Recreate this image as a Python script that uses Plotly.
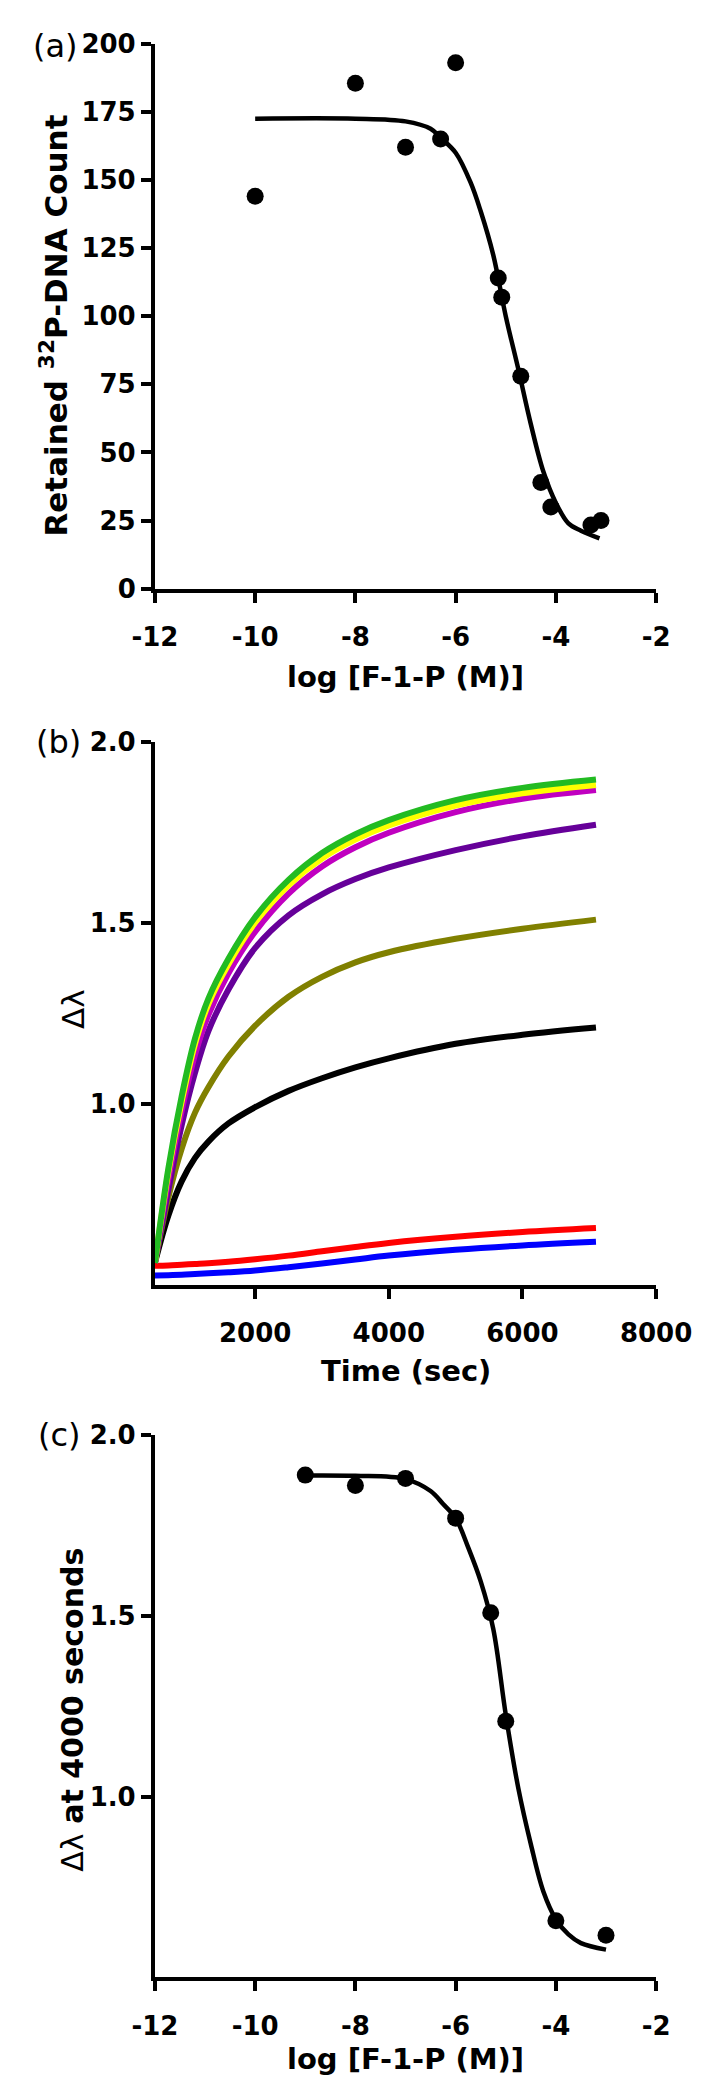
import plotly.graph_objects as go

# ---------------- Panel (a) data ----------------
a_logx = [-10, -8, -7, -6.3, -6, -5.15, -5.08, -4.7, -4.3, -4.1, -3.3, -3.1]
a_count = [144, 185.5, 162, 165, 193, 114, 107, 78, 39, 30, 23.4, 25]
a_fit_x = [-10, -8, -7, -6.5, -6.3, -6, -5.7, -5.5, -5.25, -5.0, -4.75, -4.5, -4.25, -4.0, -3.75, -3.5, -3.13]
a_fit_y = [172.5, 172.5, 171.5, 168.8, 165.5, 160, 149, 138.5, 122.5, 100, 80.6, 60.4, 43, 31.5, 24, 21.3, 18.5]

# ---------------- Panel (b) data ----------------
b_time = [500, 700, 900, 1100, 1300, 1600, 2000, 2500, 3000, 3500, 4000, 5000, 6000, 7100]
b_green = [0.56, 0.82, 1.02, 1.18, 1.29, 1.40, 1.515, 1.618, 1.692, 1.744, 1.783, 1.838, 1.872, 1.895]
b_yellow = [0.56, 0.81, 1.005, 1.165, 1.275, 1.385, 1.50, 1.603, 1.677, 1.729, 1.768, 1.823, 1.857, 1.88]
b_magenta = [0.56, 0.79, 0.98, 1.135, 1.245, 1.36, 1.475, 1.58, 1.655, 1.708, 1.748, 1.805, 1.842, 1.866]
b_purple = [0.56, 0.76, 0.94, 1.085, 1.20, 1.315, 1.43, 1.52, 1.578, 1.62, 1.652, 1.70, 1.738, 1.77]
b_olive = [0.56, 0.74, 0.875, 0.975, 1.045, 1.13, 1.215, 1.295, 1.35, 1.39, 1.418, 1.455, 1.483, 1.508]
b_black = [0.56, 0.69, 0.785, 0.85, 0.895, 0.945, 0.99, 1.035, 1.07, 1.10, 1.125, 1.165, 1.19, 1.21]
b_red = [0.552, 0.553, 0.555, 0.557, 0.559, 0.563, 0.57, 0.58, 0.592, 0.604, 0.615, 0.632, 0.645, 0.656]
b_blue = [0.525, 0.526, 0.527, 0.529, 0.531, 0.534, 0.539, 0.548, 0.558, 0.569, 0.58, 0.596, 0.608, 0.618]

# ---------------- Panel (c) data ----------------
c_logx = [-9, -8, -7, -6, -5.3, -5.0, -4, -3]
c_dl = [1.89, 1.861, 1.881, 1.771, 1.509, 1.209, 0.657, 0.617]
c_fit_x = [-9, -8, -7, -6.5, -6.25, -6, -5.75, -5.5, -5.25, -5.0, -4.75, -4.5, -4.25, -4.0, -3.75, -3.5, -3.0]
c_fit_y = [1.889, 1.888, 1.879, 1.846, 1.81, 1.771, 1.69, 1.596, 1.465, 1.227, 1.024, 0.869, 0.738, 0.661, 0.619, 0.595, 0.577]

# tick values / labels
log_ticks = [-12, -10, -8, -6, -4, -2]
log_labels = ["-12", "-10", "-8", "-6", "-4", "-2"]
a_yticks = [0, 25, 50, 75, 100, 125, 150, 175, 200]
a_ylabels = ["0", "25", "50", "75", "100", "125", "150", "175", "200"]
time_ticks = [2000, 4000, 6000, 8000]
time_labels = ["2000", "4000", "6000", "8000"]
dl_ticks = [1.0, 1.5, 2.0]
dl_labels = ["1.0", "1.5", "2.0"]

W, H = 719, 2084
FONT = "DejaVu Sans"

def py(px):
    return 1 - px / H

def bold(labels):
    return ["<b>%s</b>" % s for s in labels]

xdom = [135 / W, 681 / W]

fig = go.Figure()

# Panel (a)
fig.add_trace(go.Scatter(x=a_fit_x, y=a_fit_y, mode="lines", line=dict(color="black", width=4.5, shape="spline"),
                         xaxis="x", yaxis="y"))
fig.add_trace(go.Scatter(x=a_logx, y=a_count, mode="markers", marker=dict(color="black", size=17),
                         xaxis="x", yaxis="y", cliponaxis=False))

# Panel (b)
b_series = [
    (b_blue, "#0000FF"),
    (b_red, "#FF0000"),
    (b_black, "#000000"),
    (b_olive, "#808000"),
    (b_purple, "#660099"),
    (b_magenta, "#C000C0"),
    (b_yellow, "#FFFF00"),
    (b_green, "#22BB22"),
]
for vals, col in b_series:
    fig.add_trace(go.Scatter(x=b_time, y=vals, mode="lines", line=dict(color=col, width=6, shape="spline"),
                             xaxis="x2", yaxis="y2"))

# Panel (c)
fig.add_trace(go.Scatter(x=c_fit_x, y=c_fit_y, mode="lines", line=dict(color="black", width=4.5, shape="spline"),
                         xaxis="x3", yaxis="y3"))
fig.add_trace(go.Scatter(x=c_logx, y=c_dl, mode="markers", marker=dict(color="black", size=17),
                         xaxis="x3", yaxis="y3", cliponaxis=False))

tickfont = dict(family=FONT, size=26, color="black")
axis_common = dict(showline=True, linecolor="black", linewidth=4, ticks="outside", ticklen=10,
                   tickwidth=4, tickcolor="black", showgrid=False, zeroline=False, mirror=False,
                   tickfont=tickfont)
xextra = dict(ticklabelstandoff=12)
yextra = dict(ticklabelstandoff=0)

fig.update_layout(
    width=W, height=H, margin=dict(l=0, r=0, t=0, b=0),
    paper_bgcolor="white", plot_bgcolor="white", showlegend=False,
    xaxis=dict(domain=xdom, range=[-12, -2], tickvals=log_ticks, ticktext=bold(log_labels), anchor="y",
               **axis_common, **xextra),
    yaxis=dict(domain=[py(574), py(21)], range=[0, 200], tickvals=a_yticks, ticktext=bold(a_ylabels),
               anchor="x", **axis_common, **yextra),
    xaxis2=dict(domain=xdom, range=[500, 8000], tickvals=time_ticks, ticktext=bold(time_labels), anchor="y2",
                **axis_common, **xextra),
    yaxis2=dict(domain=[py(1280), py(729)], range=[0.5, 2.0], tickvals=dl_ticks, ticktext=bold(dl_labels),
                anchor="x2", **axis_common, **yextra),
    xaxis3=dict(domain=xdom, range=[-12, -2], tickvals=log_ticks, ticktext=bold(log_labels), anchor="y3",
                **axis_common, **xextra),
    yaxis3=dict(domain=[py(1983), py(1433)], range=[0.5, 2.0], tickvals=dl_ticks, ticktext=bold(dl_labels),
                anchor="x3", **axis_common, **yextra),
)

xtitle_font = dict(family=FONT, size=29, color="black")
ytitle_font = dict(family=FONT, size=31, color="black")
label_font = dict(family=FONT, size=32, color="black")
xc = (135 + 681) / 2 / W
ann = [
    dict(text="(a)", x=0, y=py(23), xanchor="left", yanchor="middle", font=label_font),
    dict(text="(b)", x=3 / W, y=py(729), xanchor="left", yanchor="middle", font=label_font),
    dict(text="(c)", x=5 / W, y=py(1433), xanchor="left", yanchor="middle", font=label_font),
    dict(text="<b>Retained <sup>32</sup>P-DNA Count</b>", x=25 / W, y=py(307), textangle=-90,
         xanchor="center", yanchor="middle", font=ytitle_font),
    dict(text="<b>log [F-1-P (M)]</b>", x=xc, y=py(664), xanchor="center", yanchor="middle", font=xtitle_font),
    dict(text="Δλ", x=45 / W, y=py(1000), textangle=-90, xanchor="center", yanchor="middle",
         font=dict(family=FONT, size=31, color="black")),
    dict(text="<b>Time (sec)</b>", x=xc, y=py(1368), xanchor="center", yanchor="middle", font=xtitle_font),
    dict(text="Δλ <b>at 4000 seconds</b>", x=45 / W, y=py(1711), textangle=-90,
         xanchor="center", yanchor="middle", font=dict(family=FONT, size=30, color="black")),
    dict(text="<b>log [F-1-P (M)]</b>", x=xc, y=py(2066), xanchor="center", yanchor="middle", font=xtitle_font),
]
for a in ann:
    a.update(xref="paper", yref="paper", showarrow=False)
fig.update_layout(annotations=ann)

fig.write_html("out.html")
